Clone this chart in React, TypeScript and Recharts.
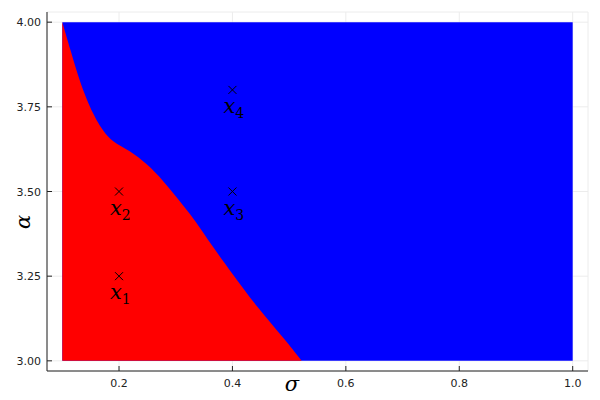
import React from "react";
import { ComposedChart, Area, Scatter, XAxis, YAxis, CartesianGrid, Label } from "recharts";

// boundary between the two regions (sigma -> alpha)
const boundarySigma = [0.1, 0.114, 0.131, 0.155, 0.172, 0.188, 0.219, 0.249, 0.278, 0.302, 0.325, 0.346, 0.366, 0.399, 0.443, 0.493, 0.522];
const boundaryAlpha = [4.0, 3.92, 3.821, 3.724, 3.679, 3.647, 3.621, 3.582, 3.532, 3.482, 3.435, 3.385, 3.335, 3.259, 3.159, 3.062, 3.0];

// full parameter rectangle
const rectSigma = [0.1, 1.0];
const rectAlpha = [4.0, 4.0];

// marked points
const pointSigma = [0.2, 0.2, 0.4, 0.4];
const pointAlpha = [3.25, 3.5, 3.5, 3.8];
const pointIndex = ["1", "2", "3", "4"];

const xTicks = [0.2, 0.4, 0.6, 0.8, 1.0];
const yTicks = [3.0, 3.25, 3.5, 3.75, 4.0];

const redData = boundarySigma.map((s, i) => ({ sigma: s, alpha: boundaryAlpha[i] }));
const blueData = rectSigma.map((s, i) => ({ sigma: s, alpha: rectAlpha[i] }));
const pointData = pointSigma.map((s, i) => ({ sigma: s, alpha: pointAlpha[i], idx: pointIndex[i] }));

const tickFont = "DejaVu Sans, sans-serif";
const mathFont = "DejaVu Serif, serif";

const XTick = (props: any) => {
  const { x, y, payload } = props;
  return (
    <g>
      <line x1={x} x2={x} y1={y} y2={y - 5} stroke="#222" strokeWidth={1} />
      <text x={x} y={y + 16} textAnchor="middle" fontSize={11} fontFamily={tickFont} fill="#222">
        {payload.value.toFixed(1)}
      </text>
    </g>
  );
};

const YTick = (props: any) => {
  const { x, y, payload } = props;
  return (
    <g>
      <line x1={x} x2={x + 5} y1={y} y2={y} stroke="#222" strokeWidth={1} />
      <text x={x - 6} y={y + 4} textAnchor="end" fontSize={11} fontFamily={tickFont} fill="#222">
        {payload.value.toFixed(2)}
      </text>
    </g>
  );
};

const Marker = (props: any) => {
  const { cx, cy, payload } = props;
  const r = 4;
  return (
    <g>
      <line x1={cx - r} y1={cy - r} x2={cx + r} y2={cy + r} stroke="#000" strokeWidth={1} />
      <line x1={cx - r} y1={cy + r} x2={cx + r} y2={cy - r} stroke="#000" strokeWidth={1} />
      <text x={cx - 9} y={cy + 23} fontSize={21} fontFamily={mathFont} fontStyle="italic" fill="#000">
        x
        <tspan dy={5} fontSize={14} fontStyle="normal">{payload.idx}</tspan>
      </text>
    </g>
  );
};

export default function App() {
  return (
    <div style={{ position: "absolute", left: 0, top: 0, background: "#fff" }}>
      <ComposedChart width={600} height={400} margin={{ top: 12, right: 12, left: 0, bottom: 0 }}>
        <CartesianGrid stroke="#ececec" strokeWidth={1} />
        <XAxis
          type="number"
          dataKey="sigma"
          domain={[0.073, 1.027]}
          ticks={xTicks}
          allowDataOverflow
          height={29}
          stroke="#222"
          tickSize={0}
          tickMargin={0}
          tickLine={false}
          tick={<XTick />}
        >
          <Label
            content={() => (
              <text x={292} y={391} fontSize={21} fontFamily={mathFont} fontStyle="italic" textAnchor="middle" fill="#000">
                σ
              </text>
            )}
          />
        </XAxis>
        <YAxis
          type="number"
          dataKey="alpha"
          domain={[2.97, 4.03]}
          ticks={yTicks}
          allowDataOverflow
          width={47}
          stroke="#222"
          tickSize={0}
          tickMargin={0}
          tickLine={false}
          tick={<YTick />}
        >
          <Label
            content={() => (
              <text
                x={30}
                y={222}
                fontSize={21}
                fontFamily={mathFont}
                fontStyle="italic"
                textAnchor="middle"
                fill="#000"
                transform="rotate(-90 30 222)"
              >
                α
              </text>
            )}
          />
        </YAxis>
        <Area
          data={blueData}
          dataKey="alpha"
          type="linear"
          baseValue={3}
          fill="#0000ff"
          fillOpacity={1}
          stroke="none"
          isAnimationActive={false}
        />
        <Area
          data={redData}
          dataKey="alpha"
          type="basis"
          baseValue={3}
          fill="#ff0000"
          fillOpacity={1}
          stroke="none"
          isAnimationActive={false}
        />
        <Scatter data={pointData} dataKey="alpha" shape={<Marker />} isAnimationActive={false} />
      </ComposedChart>
    </div>
  );
}
